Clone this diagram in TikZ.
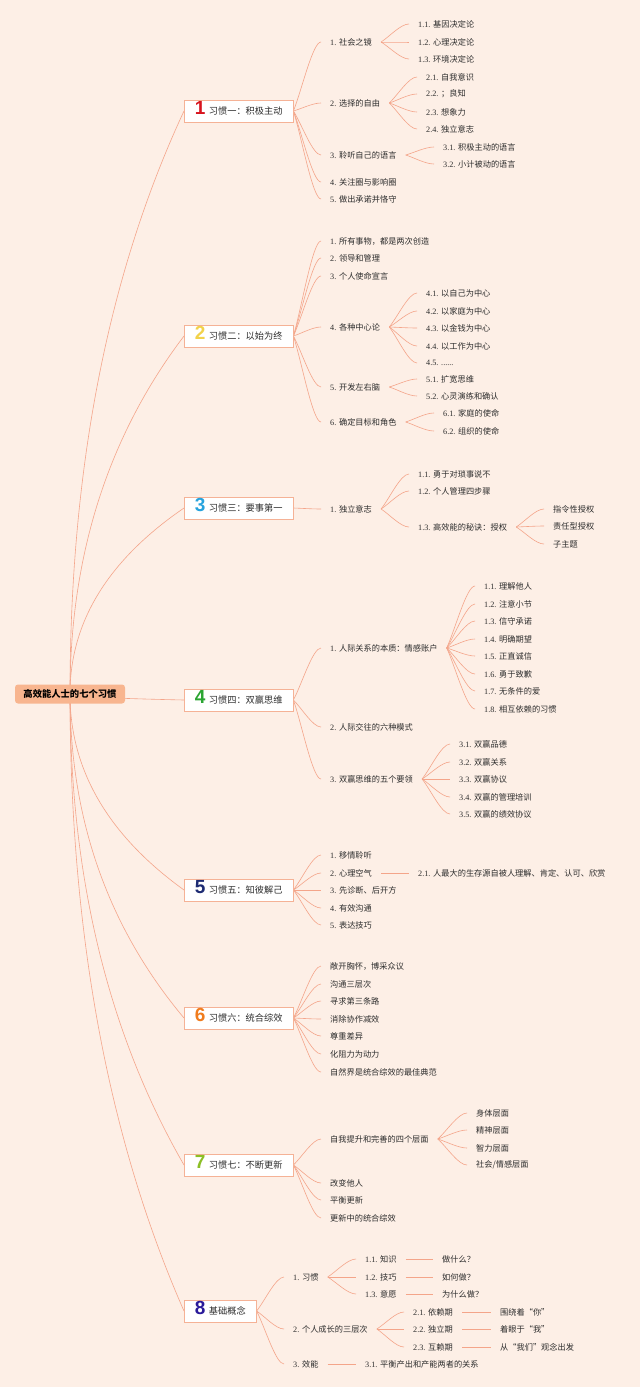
\documentclass[tikz,border=0pt]{standalone}
\usepackage{fontspec}
\setmainfont{Noto Sans CJK SC}
\newfontfamily\numf{Liberation Serif}
\newfontfamily\digf{Liberation Sans}
\usetikzlibrary{calc,backgrounds}
\definecolor{bgc}{RGB}{253,239,230}
\definecolor{ln}{RGB}{244,165,138}
\definecolor{bx}{RGB}{245,178,150}
\definecolor{rootc}{RGB}{248,181,143}
\definecolor{tx}{RGB}{45,45,45}
\definecolor{d1}{RGB}{215,20,30}
\definecolor{d2}{RGB}{242,210,75}
\definecolor{d3}{RGB}{39,163,221}
\definecolor{d4}{RGB}{43,165,50}
\definecolor{d5}{RGB}{29,43,115}
\definecolor{d6}{RGB}{240,124,30}
\definecolor{d7}{RGB}{140,191,38}
\definecolor{d8}{RGB}{42,26,154}
\newcommand\lb[2]{{\numf #1 }#2}
\newcommand\hb[3]{\makebox[13pt][l]{\digf\fontsize{19}{19}\selectfont\bfseries\color{#1}#2}\hspace{1pt}#3}
\newcommand\rcon[2]{\draw[conn] let \p1=(#1.center), \p2=(#2.west) in (\p1) .. controls (\x1,{\y1+0.387*(\y2-\y1)}) and ({\x2-0.667*(\x2-\x1)},{\y2-0.28*(\y2-\y1)}) .. (\p2);}
\newcommand\ccon[2]{\draw[conn] let \p1=(#1.east), \p2=(#2.west) in (\p1) .. controls ({\x1+0.3*(\x2-\x1)},{\y1+0.3*(\y2-\y1)}) and ({\x2-0.3*(\x2-\x1)},\y2) .. (\p2);}
\tikzset{
  conn/.style={draw=ln, line width=0.6pt},
  lv/.style={anchor=west, xshift=-9pt, inner xsep=9pt, inner ysep=1pt, font=\fontsize{8.2}{9}\selectfont, text=tx},
  habit/.style={anchor=west, draw=bx, line width=0.8pt, fill=white, inner xsep=10.5pt, inner ysep=0pt, minimum height=22pt, text height=11pt, text depth=4pt, font=\fontsize{9.2}{10}\selectfont, text=tx},
  rootbox/.style={fill=rootc, rounded corners=3pt, minimum width=110pt, minimum height=19pt, inner sep=0pt, font=\fontsize{9.3}{10}\selectfont\bfseries, text=black}
}
\begin{document}
\begin{tikzpicture}[x=1pt,y=-1pt]
\useasboundingbox (0,0) rectangle (640,1387);
% root
\node[rootbox] (root) at (70,694) {高效能人士的七个习惯};
% habits
\node[habit] (h1) at (184,111) {\hb{d1}{1}{习惯一：积极主动}};
\node[habit] (h2) at (184,336) {\hb{d2}{2}{习惯二：以始为终}};
\node[habit] (h3) at (184,508) {\hb{d3}{3}{习惯三：要事第一}};
\node[habit] (h4) at (184,700) {\hb{d4}{4}{习惯四：双赢思维}};
\node[habit] (h5) at (184,890) {\hb{d5}{5}{习惯五：知彼解己}};
\node[habit] (h6) at (184,1018) {\hb{d6}{6}{习惯六：统合综效}};
\node[habit] (h7) at (184,1165) {\hb{d7}{7}{习惯七：不断更新}};
\node[habit] (h8) at (184,1311) {\hb{d8}{8}{基础概念}};
% habit 1
\node[lv] (h1a) at (330,42) {\lb{1.}{社会之镜}};
\node[lv] (h1a1) at (418,24) {\lb{1.1.}{基因决定论}};
\node[lv] (h1a2) at (418,42) {\lb{1.2.}{心理决定论}};
\node[lv] (h1a3) at (418,59) {\lb{1.3.}{环境决定论}};
\node[lv] (h1b) at (330,103) {\lb{2.}{选择的自由}};
\node[lv] (h1b1) at (426,77) {\lb{2.1.}{自我意识}};
\node[lv] (h1b2) at (426,94) {\lb{2.2.}{；良知}};
\node[lv] (h1b3) at (426,112) {\lb{2.3.}{想象力}};
\node[lv] (h1b4) at (426,129) {\lb{2.4.}{独立意志}};
\node[lv] (h1c) at (330,155) {\lb{3.}{聆听自己的语言}};
\node[lv] (h1c1) at (443,147) {\lb{3.1.}{积极主动的语言}};
\node[lv] (h1c2) at (443,164) {\lb{3.2.}{小计被动的语言}};
\node[lv] (h1d) at (330,182) {\lb{4.}{关注圈与影响圈}};
\node[lv] (h1e) at (330,199) {\lb{5.}{做出承诺并恪守}};
% habit 2
\node[lv] (h2a) at (330,241) {\lb{1.}{所有事物，都是两次创造}};
\node[lv] (h2b) at (330,258) {\lb{2.}{领导和管理}};
\node[lv] (h2c) at (330,276) {\lb{3.}{个人使命宣言}};
\node[lv] (h2d) at (330,327) {\lb{4.}{各种中心论}};
\node[lv] (h2d1) at (426,293) {\lb{4.1.}{以自己为中心}};
\node[lv] (h2d2) at (426,311) {\lb{4.2.}{以家庭为中心}};
\node[lv] (h2d3) at (426,328) {\lb{4.3.}{以金钱为中心}};
\node[lv] (h2d4) at (426,346) {\lb{4.4.}{以工作为中心}};
\node[lv] (h2d5) at (426,363) {\lb{4.5.}{{\numf ......}}};
\node[lv] (h2e) at (330,387) {\lb{5.}{开发左右脑}};
\node[lv] (h2e1) at (426,379) {\lb{5.1.}{扩宽思维}};
\node[lv] (h2e2) at (426,396) {\lb{5.2.}{心灵演练和确认}};
\node[lv] (h2f) at (330,422) {\lb{6.}{确定目标和角色}};
\node[lv] (h2f1) at (443,413) {\lb{6.1.}{家庭的使命}};
\node[lv] (h2f2) at (443,431) {\lb{6.2.}{组织的使命}};
% habit 3
\node[lv] (h3a) at (330,509) {\lb{1.}{独立意志}};
\node[lv] (h3a1) at (418,474) {\lb{1.1.}{勇于对琐事说不}};
\node[lv] (h3a2) at (418,491) {\lb{1.2.}{个人管理四步骤}};
\node[lv] (h3a3) at (418,527) {\lb{1.3.}{高效能的秘诀：授权}};
\node[lv] (h3x1) at (553,509) {指令性授权};
\node[lv] (h3x2) at (553,526) {责任型授权};
\node[lv] (h3x3) at (553,544) {子主题};
% habit 4
\node[lv] (h4a) at (330,648) {\lb{1.}{人际关系的本质：情感账户}};
\node[lv] (h4a1) at (484,586) {\lb{1.1.}{理解他人}};
\node[lv] (h4a2) at (484,604) {\lb{1.2.}{注意小节}};
\node[lv] (h4a3) at (484,621) {\lb{1.3.}{信守承诺}};
\node[lv] (h4a4) at (484,639) {\lb{1.4.}{明确期望}};
\node[lv] (h4a5) at (484,656) {\lb{1.5.}{正直诚信}};
\node[lv] (h4a6) at (484,674) {\lb{1.6.}{勇于致歉}};
\node[lv] (h4a7) at (484,691) {\lb{1.7.}{无条件的爱}};
\node[lv] (h4a8) at (484,709) {\lb{1.8.}{相互依赖的习惯}};
\node[lv] (h4b) at (330,727) {\lb{2.}{人际交往的六种模式}};
\node[lv] (h4c) at (330,779) {\lb{3.}{双赢思维的五个要领}};
\node[lv] (h4c1) at (459,744) {\lb{3.1.}{双赢品德}};
\node[lv] (h4c2) at (459,762) {\lb{3.2.}{双赢关系}};
\node[lv] (h4c3) at (459,779) {\lb{3.3.}{双赢协议}};
\node[lv] (h4c4) at (459,797) {\lb{3.4.}{双赢的管理培训}};
\node[lv] (h4c5) at (459,814) {\lb{3.5.}{双赢的绩效协议}};
% habit 5
\node[lv] (h5a) at (330,855) {\lb{1.}{移情聆听}};
\node[lv] (h5b) at (330,873) {\lb{2.}{心理空气}};
\node[lv] (h5b1) at (418,873) {\lb{2.1.}{人最大的生存源自被人理解、肯定、认可、欣赏}};
\node[lv] (h5c) at (330,890) {\lb{3.}{先诊断、后开方}};
\node[lv] (h5d) at (330,908) {\lb{4.}{有效沟通}};
\node[lv] (h5e) at (330,925) {\lb{5.}{表达技巧}};
% habit 6
\node[lv] (h6a) at (330,966) {敞开胸怀，博采众议};
\node[lv] (h6b) at (330,984) {沟通三层次};
\node[lv] (h6c) at (330,1001) {寻求第三条路};
\node[lv] (h6d) at (330,1019) {消除协作减效};
\node[lv] (h6e) at (330,1036) {尊重差异};
\node[lv] (h6f) at (330,1054) {化阻力为动力};
\node[lv] (h6g) at (330,1072) {自然界是统合综效的最佳典范};
% habit 7
\node[lv] (h7a) at (330,1139) {自我提升和完善的四个层面};
\node[lv] (h7a1) at (476,1113) {身体层面};
\node[lv] (h7a2) at (476,1130) {精神层面};
\node[lv] (h7a3) at (476,1148) {智力层面};
\node[lv] (h7a4) at (476,1165) {社会/情感层面};
\node[lv] (h7b) at (330,1183) {改变他人};
\node[lv] (h7c) at (330,1200) {平衡更新};
\node[lv] (h7d) at (330,1218) {更新中的统合综效};
% habit 8
\node[lv] (h8a) at (293,1277) {\lb{1.}{习惯}};
\node[lv] (h8a1) at (365,1259) {\lb{1.1.}{知识}};
\node[lv] (h8a2) at (365,1277) {\lb{1.2.}{技巧}};
\node[lv] (h8a3) at (365,1294) {\lb{1.3.}{意愿}};
\node[lv] (h8q1) at (442,1259) {做什么？};
\node[lv] (h8q2) at (442,1277) {如何做？};
\node[lv] (h8q3) at (442,1294) {为什么做？};
\node[lv] (h8b) at (293,1329) {\lb{2.}{个人成长的三层次}};
\node[lv] (h8b1) at (413,1312) {\lb{2.1.}{依赖期}};
\node[lv] (h8b2) at (413,1329) {\lb{2.2.}{独立期}};
\node[lv] (h8b3) at (413,1347) {\lb{2.3.}{互赖期}};
\node[lv] (h8r1) at (500,1312) {围绕着“你”};
\node[lv] (h8r2) at (500,1329) {着眼于“我”};
\node[lv] (h8r3) at (500,1347) {从“我们”观念出发};
\node[lv] (h8c) at (293,1364) {\lb{3.}{效能}};
\node[lv] (h8c1) at (365,1364) {\lb{3.1.}{平衡产出和产能两者的关系}};
% connectors
\begin{scope}[on background layer]
\fill[bgc] (0,0) rectangle (640,1387);
\foreach \cn in {h1,h2,h3,h4,h5,h6,h7,h8} {\rcon{root}{\cn}}
\foreach \cn in {h1a,h1b,h1c,h1d,h1e} {\ccon{h1}{\cn}}
\foreach \cn in {h1a1,h1a2,h1a3} {\ccon{h1a}{\cn}}
\foreach \cn in {h1b1,h1b2,h1b3,h1b4} {\ccon{h1b}{\cn}}
\foreach \cn in {h1c1,h1c2} {\ccon{h1c}{\cn}}
\foreach \cn in {h2a,h2b,h2c,h2d,h2e,h2f} {\ccon{h2}{\cn}}
\foreach \cn in {h2d1,h2d2,h2d3,h2d4,h2d5} {\ccon{h2d}{\cn}}
\foreach \cn in {h2e1,h2e2} {\ccon{h2e}{\cn}}
\foreach \cn in {h2f1,h2f2} {\ccon{h2f}{\cn}}
\ccon{h3}{h3a}
\foreach \cn in {h3a1,h3a2,h3a3} {\ccon{h3a}{\cn}}
\foreach \cn in {h3x1,h3x2,h3x3} {\ccon{h3a3}{\cn}}
\foreach \cn in {h4a,h4b,h4c} {\ccon{h4}{\cn}}
\foreach \cn in {h4a1,h4a2,h4a3,h4a4,h4a5,h4a6,h4a7,h4a8} {\ccon{h4a}{\cn}}
\foreach \cn in {h4c1,h4c2,h4c3,h4c4,h4c5} {\ccon{h4c}{\cn}}
\foreach \cn in {h5a,h5b,h5c,h5d,h5e} {\ccon{h5}{\cn}}
\ccon{h5b}{h5b1}
\foreach \cn in {h6a,h6b,h6c,h6d,h6e,h6f,h6g} {\ccon{h6}{\cn}}
\foreach \cn in {h7a,h7b,h7c,h7d} {\ccon{h7}{\cn}}
\foreach \cn in {h7a1,h7a2,h7a3,h7a4} {\ccon{h7a}{\cn}}
\foreach \cn in {h8a,h8b,h8c} {\ccon{h8}{\cn}}
\foreach \cn in {h8a1,h8a2,h8a3} {\ccon{h8a}{\cn}}
\ccon{h8a1}{h8q1}
\ccon{h8a2}{h8q2}
\ccon{h8a3}{h8q3}
\foreach \cn in {h8b1,h8b2,h8b3} {\ccon{h8b}{\cn}}
\ccon{h8b1}{h8r1}
\ccon{h8b2}{h8r2}
\ccon{h8b3}{h8r3}
\ccon{h8c}{h8c1}
\end{scope}
\end{tikzpicture}
\end{document}
